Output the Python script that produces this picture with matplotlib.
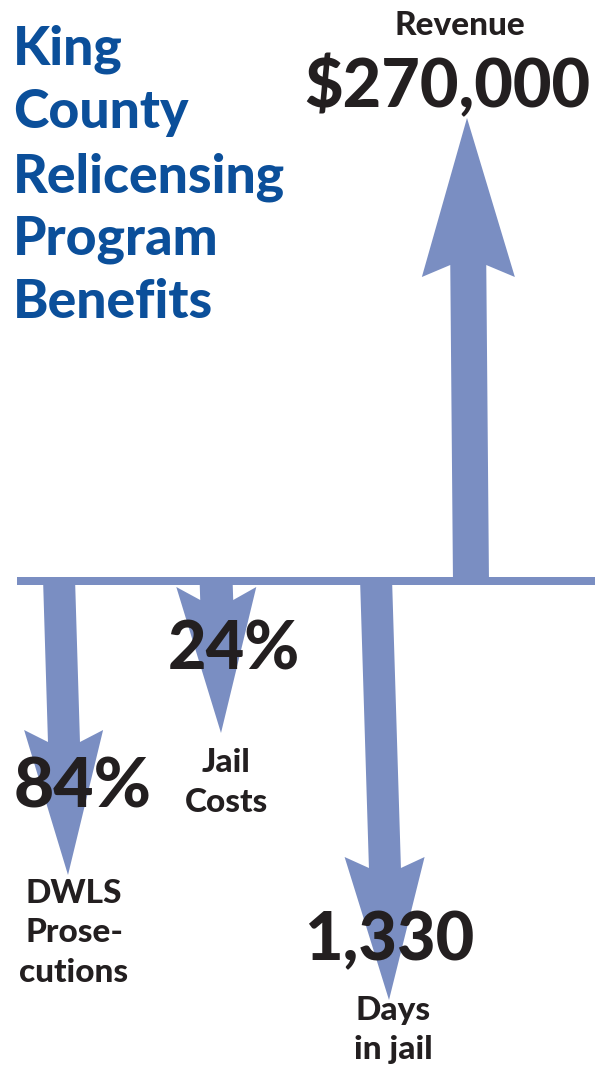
import matplotlib
matplotlib.use("Agg")
import matplotlib.pyplot as plt
from matplotlib.patches import Polygon

# ---- data ----
categories = ["DWLS\nProse-\ncutions", "Jail\nCosts", "Days\nin jail", "Revenue"]
value_labels = ["84%", "24%", "1,330", "$270,000"]
directions = [-1, -1, -1, 1]          # -1 = reduction (down), 1 = gain (up)
arrow_lengths = [294, 152, 419, 463]  # arrow length (px units)
title_lines = ["King", "County", "Relicensing", "Program", "Benefits"]

# ---- style / layout ----
W, H = 599, 1066
ARROW = "#7a8ec2"
TITLE = "#0b4f9a"
INK = "#231f20"
FONT = ["Lato", "DejaVu Sans"]
base_y = 581
x_base = [59, 216, 376, 471]
x_tip = [68, 221, 389, 467]
shaft_w = [32, 33, 32, 36]
head_w = [79, 80, 80, 93]
head_len = [145, 146, 143, 159]
barb_sweep = [12, 13, 11, 12]

fig = plt.figure(figsize=(W / 100, H / 100), dpi=100)
ax = fig.add_axes([0, 0, 1, 1])
ax.set_xlim(0, W)
ax.set_ylim(H, 0)
ax.axis("off")

for i in range(len(categories)):
    d = directions[i]
    y0 = base_y - (3 if d < 0 else -3)
    y1 = base_y - d * arrow_lengths[i]
    x0, x1 = x_base[i], x_tip[i]

    def xc(y):
        return x0 + (x1 - x0) * (y - y0) / (y1 - y0)

    yb = y1 + d * head_len[i]          # outer barb
    yi = yb - d * barb_sweep[i]        # inner joint toward tip
    sw, hw = shaft_w[i] / 2, head_w[i] / 2
    verts = [
        (xc(y0) - sw, y0), (xc(yi) - sw, yi), (xc(yb) - hw, yb), (x1, y1),
        (xc(yb) + hw, yb), (xc(yi) + sw, yi), (xc(y0) + sw, y0),
    ]
    ax.add_patch(Polygon(verts, closed=True, facecolor=ARROW, edgecolor="none", zorder=1))

# baseline
ax.plot([17, 595], [base_y, base_y], color=ARROW, lw=8 * 0.72, solid_capstyle="butt", zorder=2)

# title
title_baselines = [65, 128, 192, 255, 318]
for t, yb in zip(title_lines, title_baselines):
    ax.text(13, yb, t, color=TITLE, fontsize=38.5, fontweight="black", family=FONT,
            ha="left", va="baseline", zorder=3)

# value labels
val_pos = [(83, 807), (234, 670), (389, 960), (447, 107)]
val_size = [50, 48, 48, 48]
for s, (x, y), fs in zip(value_labels, val_pos, val_size):
    ax.text(x, y, s, color=INK, fontsize=fs, fontweight="black", family=FONT,
            ha="center", va="baseline", zorder=4)

# category labels
cat_pos = [(74, 903), (226, 772), (393, 1020), (460, 35)]
for c, (x, y) in zip(categories, cat_pos):
    for j, line in enumerate(c.split("\n")):
        ax.text(x, y + j * 39.5, line, color=INK, fontsize=24, fontweight="black",
                family=FONT, ha="center", va="baseline", zorder=4)

fig.savefig("out.png", dpi=100)
